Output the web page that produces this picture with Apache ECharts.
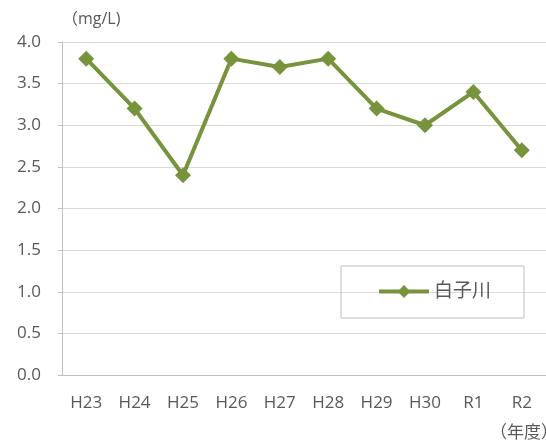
<!DOCTYPE html>
<html>
<head>
<meta charset="utf-8">
<script src="https://cdn.jsdelivr.net/npm/echarts@6/dist/echarts.min.js"></script>
<style>
  html, body { margin: 0; padding: 0; background: #fff; }
  #chart { width: 546px; height: 446px; }
</style>
</head>
<body>
<div id="chart"></div>
<script>
// data
const years = ["H23", "H24", "H25", "H26", "H27", "H28", "H29", "H30", "R1", "R2"];
const shirakoRiver = [3.8, 3.2, 2.4, 3.8, 3.7, 3.8, 3.2, 3.0, 3.4, 2.7];
const seriesName = "白子川";

const green = "#77933C";
const textGray = "#595959";
const font = "'Open Sans', 'Noto Sans CJK JP', sans-serif";

const chart = echarts.init(document.getElementById("chart"), null, { renderer: "canvas" });

chart.setOption({
  animation: false,
  backgroundColor: "#fff",
  textStyle: { fontFamily: font },
  grid: { left: 62, right: 0, top: 42, bottom: 71, containLabel: false },
  graphic: [
    { type: "text", left: 62, top: 11, style: { text: "（mg/L)", font: "16px " + font, fill: textGray } },
    { type: "text", left: 490, top: 425, style: { text: "（年度）", font: "17px " + font, fill: textGray } }
  ],
  legend: {
    data: [seriesName],
    left: 341,
    top: 266,
    padding: [16, 33, 17, 36],
    borderColor: "#bfbfbf",
    borderWidth: 1,
    itemWidth: 50,
    itemHeight: 16,
    itemGap: 4,
    lineStyle: { width: 4 },
    textStyle: { color: textGray, fontSize: 19, fontFamily: font }
  },
  xAxis: {
    type: "category",
    data: years,
    boundaryGap: true,
    axisLine: { lineStyle: { color: "#bfbfbf", width: 1 } },
    axisTick: { inside: true, length: 6, lineStyle: { color: "#bfbfbf" } },
    axisLabel: { color: textGray, fontSize: 17, margin: 20, fontFamily: font }
  },
  yAxis: {
    type: "value",
    min: 0,
    max: 4,
    interval: 0.5,
    axisLine: { show: true, lineStyle: { color: "#bfbfbf", width: 1 } },
    axisTick: { show: true, length: 4, lineStyle: { color: "#bfbfbf" } },
    axisLabel: {
      color: textGray, fontSize: 17, margin: 21, fontFamily: font,
      formatter: v => v.toFixed(1)
    },
    splitLine: { lineStyle: { color: "#d9d9d9", width: 1 } }
  },
  series: [{
    name: seriesName,
    type: "line",
    data: shirakoRiver,
    symbol: "diamond",
    symbolSize: 16,
    itemStyle: { color: green },
    lineStyle: { color: green, width: 4 }
  }]
});
</script>
</body>
</html>
